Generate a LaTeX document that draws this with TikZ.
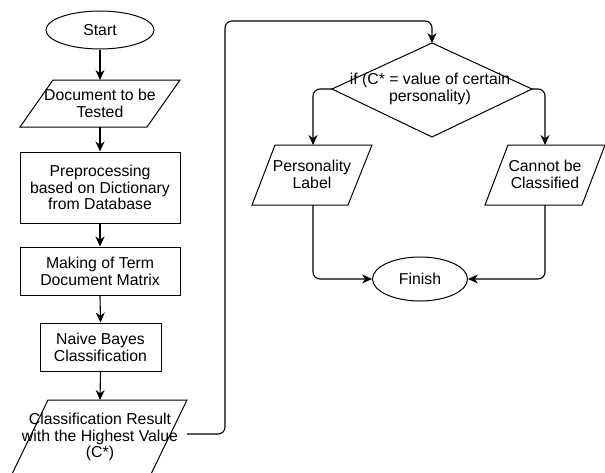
\documentclass[tikz,border=0pt]{standalone}
\usepackage{fontspec}
\setmainfont{Liberation Sans}
\usetikzlibrary{arrows.meta,shapes.geometric}
\begin{document}
\begin{tikzpicture}[x=1pt,y=-1pt,
  shp/.style={draw,line width=1pt,line join=miter},
  txt/.style={align=center,font=\fontsize{15.8}{16.7}\selectfont,inner sep=0pt},
  boxnode/.style={shp,txt,rectangle},
  ellnode/.style={shp,txt,ellipse,inner sep=0pt},
  arr/.style={draw,line width=1.1pt,-{Stealth[length=10pt,width=9pt]},rounded corners=7pt},
]
\useasboundingbox (0,0) rectangle (605,472);
\begin{scope}
\clip (0,0) rectangle (605,472);
% Start
\node[ellnode,minimum width=108pt,minimum height=38pt] (start) at (100,30) {Start};
% Document to be tested
\draw[shp] (53,80) -- (180,80) -- (147,127) -- (20,127) -- cycle;
\coordinate (doctop) at (100,80);
\coordinate (docbot) at (100,127);
\node[txt] (doc) at (100,103.5) {Document to be\\Tested};
% boxes
\node[boxnode,minimum width=160pt,minimum height=71pt] (pre) at (100,187.5) {Preprocessing\\based on Dictionary\\from Database};
\node[boxnode,minimum width=160pt,minimum height=48pt] (mak) at (100,271) {Making of Term\\Document Matrix};
\node[boxnode,minimum width=121pt,minimum height=48pt] (nb) at (100.5,347) {Naive Bayes\\Classification};
% Classification result
\draw[shp] (48,400) -- (187,400) -- (151,474) -- (12,474) -- cycle;
\coordinate (cltop) at (100,400);
\coordinate (clr) at (187,434);
\node[txt] (cl) at (100,437) {Classification Result\\with the Highest Value\\(C*)};
% Diamond
\coordinate (dtop) at (432,43);
\coordinate (dl) at (332,89);
\coordinate (dr) at (532,89);
\coordinate (dbot) at (432,137);
\draw[shp] (dtop) -- (dr) -- (dbot) -- (dl) -- cycle;
\node[txt] (cond) at (430,89) {if (C* = value of certain\\personality)};
% Personality label
\draw[shp] (275,145) -- (372,145) -- (348,205) -- (252,205) -- cycle;
\coordinate (pltop) at (313,145);
\coordinate (plbot) at (313,205);
\node[txt] (pl) at (312,174) {Personality\\Label};
% Cannot be classified
\draw[shp] (508,145) -- (605,145) -- (582,205) -- (485,205) -- cycle;
\coordinate (cntop) at (545,145);
\coordinate (cnbot) at (545,205);
\node[txt] (cn) at (545,174) {Cannot be\\Classified};
% Finish
\node[ellnode,minimum width=95pt,minimum height=44pt] (fin) at (420,279) {Finish};
% connectors
\draw[arr] (start.south) -- (doctop);
\draw[arr] (docbot) -- (pre.north);
\draw[arr] (pre.south) -- (mak.north);
\draw[arr] (mak.south) -- (nb.north);
\draw[arr] (nb.south) -- (cltop);
\draw[arr] (clr) -- (225,434) -- (225,21) -- (432,21) -- (dtop);
\draw[arr] (dl) -- (313,89) -- (pltop);
\draw[arr] (dr) -- (545,89) -- (cntop);
\draw[arr] (plbot) -- (313,279) -- (fin.west);
\draw[arr] (cnbot) -- (545,279) -- (fin.east);
\end{scope}
\end{tikzpicture}
\end{document}
